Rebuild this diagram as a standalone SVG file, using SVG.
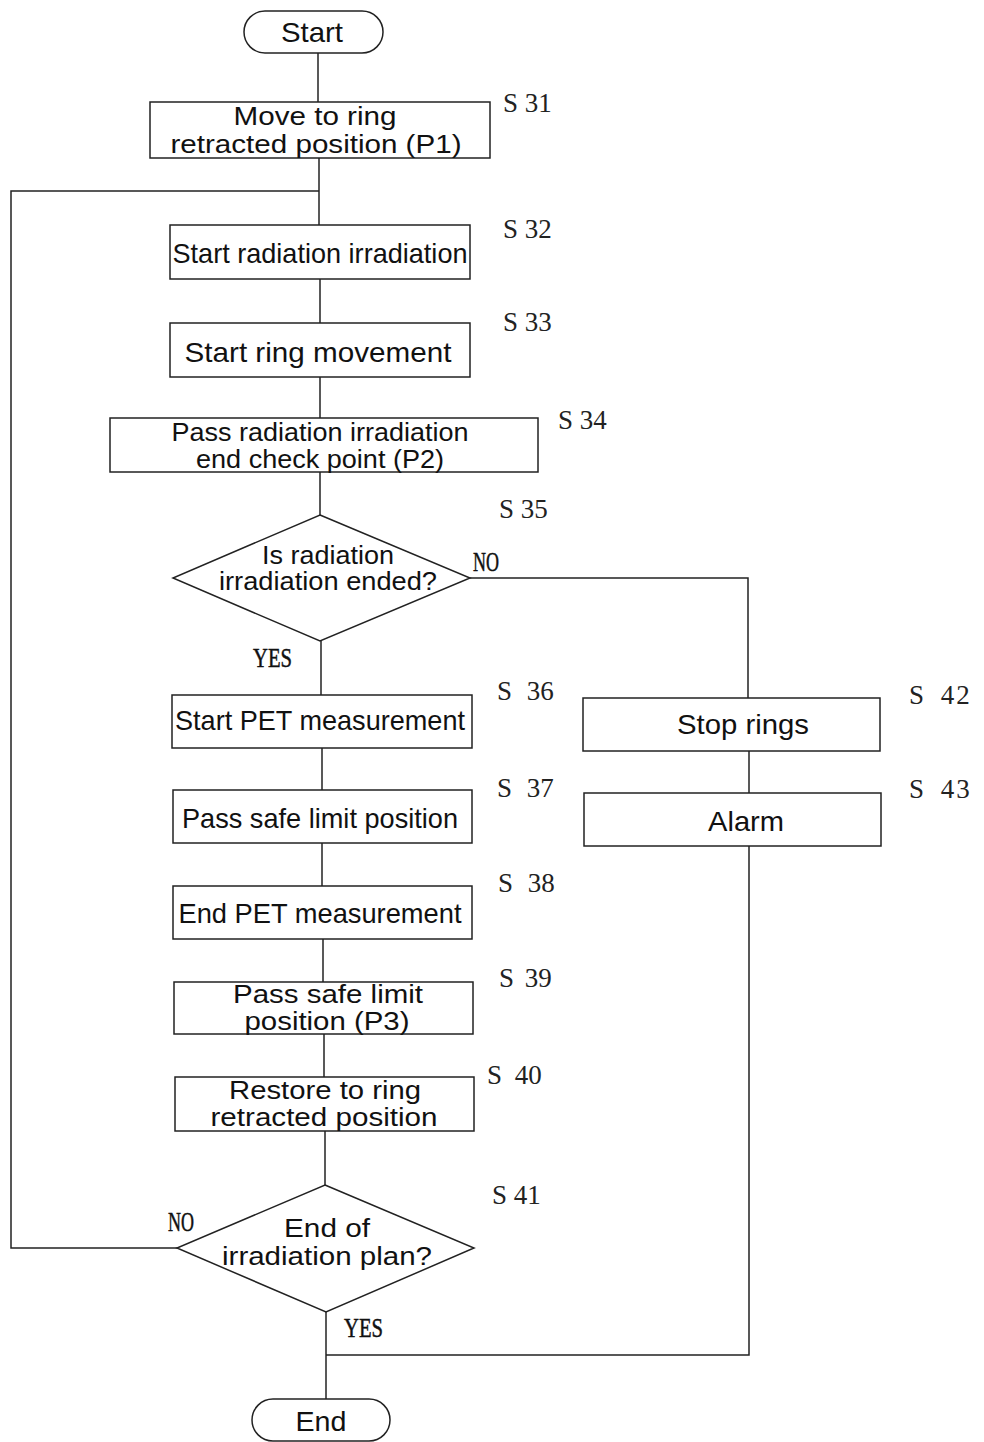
<svg xmlns="http://www.w3.org/2000/svg" width="984" height="1442" viewBox="0 0 984 1442">
<style>
.b{fill:#fff;stroke:#222;stroke-width:1.5}
.c{fill:none;stroke:#222;stroke-width:1.5}
.t{font-family:"Liberation Sans",Arial,sans-serif;font-size:28px;fill:#111;text-anchor:middle}
.t2{font-family:"Liberation Sans",Arial,sans-serif;font-size:25px;fill:#111;text-anchor:middle}
.s{font-family:"Liberation Serif","Times New Roman",serif;font-size:27px;fill:#222}
.y{font-family:"Liberation Serif","Times New Roman",serif;font-size:28px;fill:#111;stroke:#111;stroke-width:0.5}
</style>
<rect width="984" height="1442" fill="#fff"/>
<g id="connectors">
<path class="c" d="M318 53V102"/>
<path class="c" d="M319 158V225"/>
<path class="c" d="M319 191H11V1248H177"/>
<path class="c" d="M320 279V323"/>
<path class="c" d="M320 377V418"/>
<path class="c" d="M320 472V515"/>
<path class="c" d="M470 578H748V698"/>
<path class="c" d="M321 641V695"/>
<path class="c" d="M322 748V790"/>
<path class="c" d="M322 843V886"/>
<path class="c" d="M323 939V982"/>
<path class="c" d="M324 1034V1077"/>
<path class="c" d="M325 1131V1185"/>
<path class="c" d="M326 1312V1400"/>
<path class="c" d="M749 751V793"/>
<path class="c" d="M749 846V1355H326"/>
</g>
<g id="start"><rect class="b" x="244" y="11" width="139" height="42" rx="21"/><text class="t" x="312" y="42" textLength="62" lengthAdjust="spacingAndGlyphs">Start</text></g>
<g id="s31"><rect class="b" x="150" y="102" width="340" height="56"/><text class="t2" x="315" y="125" textLength="163" lengthAdjust="spacingAndGlyphs">Move to ring</text><text class="t2" x="316" y="153" textLength="291" lengthAdjust="spacingAndGlyphs">retracted position (P1)</text><text class="s" x="503" y="112">S 31</text></g>
<g id="s32"><rect class="b" x="170" y="225" width="300" height="54"/><text class="t" x="320" y="263" textLength="295" lengthAdjust="spacingAndGlyphs">Start radiation irradiation</text><text class="s" x="503" y="238">S 32</text></g>
<g id="s33"><rect class="b" x="170" y="323" width="300" height="54"/><text class="t" x="318" y="362" textLength="267" lengthAdjust="spacingAndGlyphs">Start ring movement</text><text class="s" x="503" y="331">S 33</text></g>
<g id="s34"><rect class="b" x="110" y="418" width="428" height="54"/><text class="t2" x="320" y="441" textLength="297" lengthAdjust="spacingAndGlyphs">Pass radiation irradiation</text><text class="t2" x="320" y="468" textLength="248" lengthAdjust="spacingAndGlyphs">end check point (P2)</text><text class="s" x="558" y="429">S 34</text></g>
<g id="s35"><polygon class="b" points="320,515 470,578 320,641 173,578"/><text class="t2" x="328" y="564" textLength="132" lengthAdjust="spacingAndGlyphs">Is radiation</text><text class="t2" x="328" y="590" textLength="218" lengthAdjust="spacingAndGlyphs">irradiation ended?</text><text class="s" x="499" y="518">S 35</text><text class="y" x="473" y="571" textLength="26" lengthAdjust="spacingAndGlyphs">NO</text><text class="y" x="253" y="667" textLength="39" lengthAdjust="spacingAndGlyphs">YES</text></g>
<g id="s36"><rect class="b" x="172" y="695" width="300" height="53"/><text class="t" x="320" y="730" textLength="290" lengthAdjust="spacingAndGlyphs">Start PET measurement</text><text class="s" x="497" y="700">S <tspan dx="8">36</tspan></text></g>
<g id="s37"><rect class="b" x="173" y="790" width="299" height="53"/><text class="t" x="320" y="828" textLength="276" lengthAdjust="spacingAndGlyphs">Pass safe limit position</text><text class="s" x="497" y="797">S <tspan dx="8">37</tspan></text></g>
<g id="s38"><rect class="b" x="173" y="886" width="299" height="53"/><text class="t" x="320" y="923" textLength="283" lengthAdjust="spacingAndGlyphs">End PET measurement</text><text class="s" x="498" y="892">S <tspan dx="8">38</tspan></text></g>
<g id="s39"><rect class="b" x="174" y="982" width="299" height="52"/><text class="t2" x="328" y="1003" textLength="190" lengthAdjust="spacingAndGlyphs">Pass safe limit</text><text class="t2" x="327" y="1030" textLength="165" lengthAdjust="spacingAndGlyphs">position (P3)</text><text class="s" x="499" y="987">S <tspan dx="4">39</tspan></text></g>
<g id="s40"><rect class="b" x="175" y="1077" width="299" height="54"/><text class="t2" x="325" y="1099" textLength="192" lengthAdjust="spacingAndGlyphs">Restore to ring</text><text class="t2" x="324" y="1126" textLength="227" lengthAdjust="spacingAndGlyphs">retracted position</text><text class="s" x="487" y="1084">S <tspan dx="6">40</tspan></text></g>
<g id="s41"><polygon class="b" points="325,1185 474,1248 326,1312 177,1248"/><text class="t2" x="327" y="1237" textLength="86" lengthAdjust="spacingAndGlyphs">End of</text><text class="t2" x="327" y="1265" textLength="210" lengthAdjust="spacingAndGlyphs">irradiation plan?</text><text class="s" x="492" y="1204">S 41</text><text class="y" x="168" y="1231" textLength="26" lengthAdjust="spacingAndGlyphs">NO</text><text class="y" x="344" y="1337" textLength="39" lengthAdjust="spacingAndGlyphs">YES</text></g>
<g id="s42"><rect class="b" x="583" y="698" width="297" height="53"/><text class="t" x="743" y="734" textLength="132" lengthAdjust="spacingAndGlyphs">Stop rings</text><text class="s" x="909" y="704">S <tspan dx="10">4</tspan><tspan dx="2">2</tspan></text></g>
<g id="s43"><rect class="b" x="584" y="793" width="297" height="53"/><text class="t" x="746" y="831" textLength="76" lengthAdjust="spacingAndGlyphs">Alarm</text><text class="s" x="909" y="798">S <tspan dx="10">4</tspan><tspan dx="2">3</tspan></text></g>
<g id="end"><rect class="b" x="252" y="1399" width="138" height="42" rx="21"/><text class="t" x="321" y="1431" textLength="51" lengthAdjust="spacingAndGlyphs">End</text></g>
</svg>
